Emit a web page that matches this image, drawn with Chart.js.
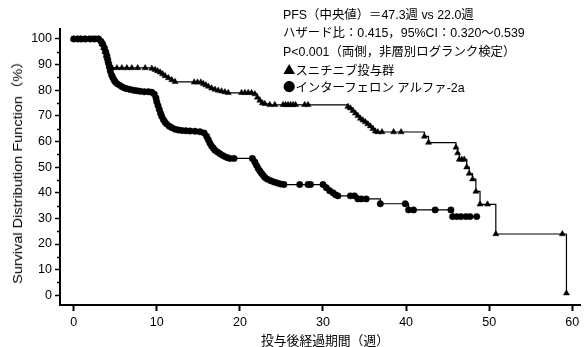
<!DOCTYPE html>
<html><head><meta charset="utf-8">
<script src="https://cdn.jsdelivr.net/npm/chart.js@4/dist/chart.umd.min.js"></script>
<style>
html,body{margin:0;padding:0;background:#fff;}
#wrap{position:relative;width:586px;height:347px;overflow:hidden;}
canvas{position:absolute;left:0;top:0;}
.note{position:absolute;left:283px;font-family:"Liberation Sans","Noto Sans CJK JP",sans-serif;font-size:12.4px;color:#000;white-space:nowrap;line-height:1;}
.sym{font-family:"Noto Sans CJK JP",sans-serif;}
.xt{position:absolute;left:325px;top:340px;transform:translate(-50%,-50%);font-family:"Noto Sans CJK JP",sans-serif;font-size:12.8px;color:#000;white-space:nowrap;line-height:1;}
.yt{position:absolute;left:18px;top:169px;transform:translate(-50%,-50%) rotate(-90deg) scaleY(0.85);font-family:"Liberation Sans","Noto Sans CJK JP",sans-serif;font-size:14.5px;color:#000;white-space:nowrap;line-height:1;}
</style></head><body>
<div id="wrap"><canvas id="c" width="586" height="347"></canvas>
<div class="note" style="top:9px">PFS（中央値）＝47.3週 vs 22.0週</div>
<div class="note" style="top:27px">ハザード比：0.415，95%CI：0.320〜0.539</div>
<div class="note" style="top:46px">P&lt;0.001（両側，非層別ログランク検定）</div>
<div class="note" style="top:64px"><span class="sym">▲</span>スニチニブ投与群</div>
<div class="note" style="top:81px"><span class="sym">●</span>インターフェロン アルファ-2a</div>
<div class="xt">投与後経過期間（週）</div>
<div class="yt">Survival Distribution Function（%）</div>
</div>
<script>
// ---- data (weeks, survival %) ----
const sunWeeks = [0,0.4,0.8,1.3,1.8,2.3,2.7,3.0,3.2,3.4,3.6,3.75,3.9,4.0,4.1,4.2,4.3,4.45,4.6,5.2,5.8,6.4,7.0,7.7,8.6,9.4,9.8,10.1,10.4,10.7,11.0,11.4,11.8,12.2,14.5,14.9,15.3,15.6,15.9,16.2,16.6,17.0,17.4,17.8,18.2,18.6,20.2,20.6,21.0,21.4,21.8,22.1,22.4,22.7,23.0,23.6,24.2,25.2,25.5,25.8,26.1,26.4,26.7,27.8,28.2,33.0,33.3,33.6,33.9,34.2,34.5,34.8,35.1,35.4,35.7,36.0,36.3,36.6,37.1,38.5,39.4,42.2,42.7,46.0,46.2,46.4,46.7,47.0,47.3,47.6,48.0,48.4,48.9,49.8,50.8,58.8,59.3];
const sunSurv  = [100,100,100,100,100,100,100,100,99.5,98,96.5,95,93.5,92.5,91.5,90.5,89.8,89.2,88.7,88.7,88.7,88.7,88.7,88.7,88.7,88.5,88,87.5,87,86.3,85.6,84.8,84,83.3,83.1,83.1,83.1,82.5,82,81.5,80.8,80.3,79.9,79.6,79.3,79,79,79,79,79,78.5,77.2,76,75,74.7,74.3,74.3,74.3,74.3,74.3,74.3,74.3,74.3,74.3,74.3,73.6,73,72,71,70,69,68.3,67.6,66.8,66,65,64,63.7,63.7,63.7,63.7,62,59.6,57.7,55.5,53,53,53,50,47.5,45.3,40.5,35.5,35.5,23.9,23.9,0.8];
const ifnWeeks = [0,0.5,0.9,1.4,2.0,2.5,3.0,3.3,3.5,3.7,3.85,4.0,4.1,4.2,4.3,4.4,4.55,4.7,4.85,5.0,5.2,5.5,5.8,6.1,6.4,6.8,7.2,7.6,8.0,8.5,9.0,9.4,9.7,9.9,10.0,10.15,10.3,10.45,10.6,10.8,11.0,11.2,11.5,11.8,12.2,12.6,13.0,13.5,14.0,14.6,15.2,15.7,16.0,16.2,16.4,16.6,16.8,17.0,17.3,17.6,17.9,18.2,18.5,18.8,19.3,21.5,21.8,22.0,22.2,22.4,22.6,22.8,23.0,23.3,23.7,24.1,24.5,24.9,25.3,27.2,28.2,28.5,30.0,30.4,30.8,31.2,31.5,31.8,33.3,33.8,34.2,34.6,35.2,36.9,39.9,40.3,40.9,43.5,45.4,45.6,46.1,46.6,47.2,47.7,48.5];
const ifnSurv  = [100,100,100,100,100,100,100,99,98,96.5,95,93.5,92,90.5,89,87.5,86,85,84,83.3,82.6,82,81.4,80.9,80.6,80.3,80,79.8,79.6,79.4,79.4,79.2,78.5,77,75.5,74,72.5,71,69.8,68.5,67.5,66.8,66,65.4,64.8,64.5,64.3,64.2,64.1,64.0,63.8,63.3,62,60.7,59.3,58.2,57.4,56.6,55.9,55.2,54.6,54.1,53.7,53.4,53.4,53.4,52,50.7,49.5,48.5,47.6,46.8,46,45.3,44.7,44.2,43.8,43.4,43.2,43.2,43.2,43.2,43.2,42,40.8,40,39.2,38.8,38.8,38.8,37.6,37.6,37.6,35.7,35.7,33.3,33.3,33.3,33.3,30.7,30.7,30.7,30.7,30.7,30.7];
const xTicks = [0,10,20,30,40,50,60];
const yTicks = [0,10,20,30,40,50,60,70,80,90,100];
const yMinorTicks = [5,15,25,35,45,55,65,75,85,95];

const toXY = (xs, ys) => xs.map((x, i) => ({x: x, y: ys[i]}));

const minorTicks = {
  id: 'minorTicks',
  afterDraw(chart) {
    const {ctx, scales: {y}} = chart;
    const x0 = chart.chartArea.left;
    ctx.save();
    ctx.strokeStyle = '#000';
    ctx.lineWidth = 1.5;
    yMinorTicks.forEach(v => {
      const py = Math.round(y.getPixelForValue(v)) + 0.5;
      ctx.beginPath(); ctx.moveTo(x0 - 3, py); ctx.lineTo(x0, py); ctx.stroke();
    });
    ctx.restore();
  }
};

const tickFont = {family: '"Liberation Sans", Arial, sans-serif', size: 12.5};

new Chart(document.getElementById('c'), {
  type: 'line',
  data: {
    datasets: [
      {label: 'スニチニブ投与群', data: toXY(sunWeeks, sunSurv), stepped: 'before',
       borderColor: '#000', borderWidth: 1.2, pointStyle: 'triangle', pointRadius: 3.5,
       pointBackgroundColor: '#000', pointBorderColor: '#000', pointBorderWidth: 0.5, fill: false, clip: false},
      {label: 'インターフェロン アルファ-2a', data: toXY(ifnWeeks, ifnSurv), stepped: 'before',
       borderColor: '#000', borderWidth: 1.2, pointStyle: 'circle', pointRadius: 3.2,
       pointBackgroundColor: '#000', pointBorderColor: '#000', pointBorderWidth: 0.5, fill: false, clip: false}
    ]
  },
  options: {
    responsive: false, animation: false,
    layout: {padding: {left: 0, right: 6, top: 29, bottom: 0}},
    plugins: {legend: {display: false}, tooltip: {enabled: false}},
    scales: {
      x: {
        type: 'linear', min: -1.649, max: 60.93,
        afterFit(s) { s.height = 42; },
        afterBuildTicks(s) { s.ticks = xTicks.map(v => ({value: v})); },
        grid: {drawOnChartArea: false, drawTicks: true, tickLength: 6, tickColor: '#000', tickWidth: 2},
        border: {display: true, color: '#000', width: 2},
        ticks: {color: '#000', font: tickFont, padding: 4, maxRotation: 0},
        title: {display: false}
      },
      y: {
        type: 'linear', min: -3.8, max: 103.9,
        afterFit(s) { s.width = 60; },
        afterBuildTicks(s) { s.ticks = yTicks.map(v => ({value: v})); },
        grid: {drawOnChartArea: false, drawTicks: true, tickLength: 5, tickColor: '#000', tickWidth: 1.5},
        border: {display: true, color: '#000', width: 2},
        ticks: {color: '#000', font: tickFont, padding: 3},
        title: {display: false}
      }
    }
  },
  plugins: [minorTicks]
});
</script>
</body></html>
